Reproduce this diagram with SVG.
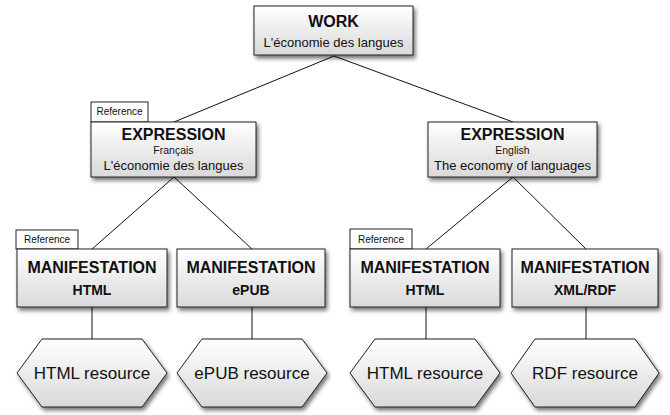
<svg xmlns="http://www.w3.org/2000/svg" width="670" height="415" viewBox="0 0 670 415">
  <defs>
    <linearGradient id="boxFill" x1="0" y1="0" x2="0" y2="1">
      <stop offset="0" stop-color="#ffffff"/>
      <stop offset="1" stop-color="#d9d9d9"/>
    </linearGradient>
    <filter id="shadow" x="-10%" y="-10%" width="125%" height="140%">
      <feDropShadow dx="2" dy="3" stdDeviation="2" flood-color="#000" flood-opacity="0.55"/>
    </filter>
    <style>
      .box { fill: url(#boxFill); stroke: #222; stroke-width: 1; filter: url(#shadow); }
      .tab { fill: #fff; stroke: #222; stroke-width: 1; }
      .edge { stroke: #111; stroke-width: 1; fill: none; }
      text { font-family: "Liberation Sans", Arial, sans-serif; fill: #111; text-anchor: middle; }
      .title { font-size: 16px; font-weight: bold; }
      .sub { font-size: 14px; font-weight: bold; }
      .lang { font-size: 10.5px; }
      .name { font-size: 13px; }
      .tabtext { font-size: 10px; }
      .res { font-size: 17px; }
    </style>
  </defs>

  <!-- connectors -->
  <g id="connectors">
    <line class="edge" x1="334" y1="56" x2="174" y2="122"/>
    <line class="edge" x1="334" y1="56" x2="513" y2="122"/>
    <line class="edge" x1="174" y1="177" x2="92" y2="249"/>
    <line class="edge" x1="174" y1="177" x2="252" y2="249"/>
    <line class="edge" x1="513" y1="177" x2="426" y2="249"/>
    <line class="edge" x1="513" y1="177" x2="586" y2="249"/>
    <line class="edge" x1="92" y1="307" x2="92" y2="339"/>
    <line class="edge" x1="252" y1="307" x2="252" y2="339"/>
    <line class="edge" x1="426" y1="307" x2="426" y2="339"/>
    <line class="edge" x1="586" y1="307" x2="586" y2="339"/>
  </g>

  <!-- work -->
  <g id="work">
    <rect class="box" x="254" y="6" width="159" height="49"/>
    <text class="title" x="333.5" y="27">WORK</text>
    <text class="name" x="333.5" y="47">L'économie des langues</text>
  </g>

  <!-- expressions -->
  <g id="expression-fr">
    <rect class="tab" x="91" y="102" width="57" height="20"/>
    <text class="tabtext" x="119.5" y="115">Reference</text>
    <rect class="box" x="91" y="122" width="165" height="55"/>
    <text class="title" x="173.5" y="140">EXPRESSION</text>
    <text class="lang" x="173.5" y="154">Français</text>
    <text class="name" x="173.5" y="170">L'économie des langues</text>
  </g>
  <g id="expression-en">
    <rect class="box" x="428" y="122" width="169" height="55"/>
    <text class="title" x="512.5" y="140">EXPRESSION</text>
    <text class="lang" x="512.5" y="154">English</text>
    <text class="name" x="512.5" y="170">The economy of languages</text>
  </g>

  <!-- manifestations -->
  <g id="manifestation-fr-html">
    <rect class="tab" x="16" y="230" width="62" height="19"/>
    <text class="tabtext" x="47" y="243">Reference</text>
    <rect class="box" x="17" y="249" width="150" height="58"/>
    <text class="title" x="92" y="273">MANIFESTATION</text>
    <text class="sub" x="92" y="295">HTML</text>
  </g>
  <g id="manifestation-fr-epub">
    <rect class="box" x="177" y="249" width="148" height="58"/>
    <text class="title" x="251" y="273">MANIFESTATION</text>
    <text class="sub" x="251" y="295">ePUB</text>
  </g>
  <g id="manifestation-en-html">
    <rect class="tab" x="350" y="229" width="62" height="20"/>
    <text class="tabtext" x="381" y="242.5">Reference</text>
    <rect class="box" x="350" y="249" width="150" height="58"/>
    <text class="title" x="425" y="273">MANIFESTATION</text>
    <text class="sub" x="425" y="295">HTML</text>
  </g>
  <g id="manifestation-en-xmlrdf">
    <rect class="box" x="512" y="249" width="146" height="58"/>
    <text class="title" x="585" y="273">MANIFESTATION</text>
    <text class="sub" x="585" y="295">XML/RDF</text>
  </g>

  <!-- resources -->
  <g id="resource-html-fr">
    <polygon class="box" points="17,373 42,339 142,339 167,373 142,407 42,407"/>
    <text class="res" x="92" y="379">HTML resource</text>
  </g>
  <g id="resource-epub">
    <polygon class="box" points="177,373 202,339 302,339 327,373 302,407 202,407"/>
    <text class="res" x="252" y="379">ePUB resource</text>
  </g>
  <g id="resource-html-en">
    <polygon class="box" points="350,373 375,339 475,339 500,373 475,407 375,407"/>
    <text class="res" x="425" y="379">HTML resource</text>
  </g>
  <g id="resource-rdf">
    <polygon class="box" points="511,373 535,339 635,339 659,373 635,407 535,407"/>
    <text class="res" x="585" y="379">RDF resource</text>
  </g>
</svg>
